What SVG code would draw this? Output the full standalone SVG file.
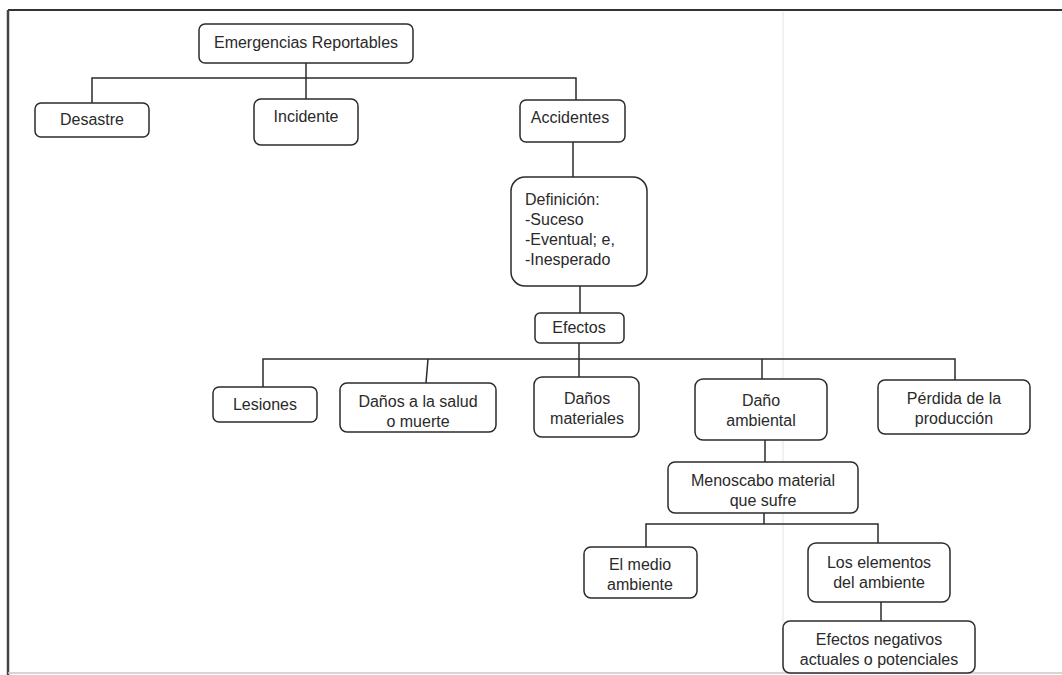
<svg xmlns="http://www.w3.org/2000/svg" width="1062" height="675" viewBox="0 0 1062 675">
<style>
.box{fill:#ffffff;stroke:#2b2b2b;stroke-width:1.5}
.t{font-family:"Liberation Sans",Arial,sans-serif;font-size:16px;fill:#2a2a2a;text-anchor:middle}
.tl{font-family:"Liberation Sans",Arial,sans-serif;font-size:16px;fill:#2a2a2a;text-anchor:start}
.c{fill:none;stroke:#2b2b2b;stroke-width:1.5}
</style>
<rect x="0" y="0" width="1062" height="675" fill="#ffffff"/>
<g id="frame">
<line x1="783" y1="12" x2="783" y2="672" stroke="#ececec" stroke-width="1.5"/>
<line x1="8" y1="10" x2="1062" y2="10" stroke="#333" stroke-width="2"/>
<line x1="8" y1="10" x2="8" y2="675" stroke="#444" stroke-width="2.5"/>
<line x1="8" y1="673" x2="1062" y2="673" stroke="#c8c8c8" stroke-width="1.5"/>
</g>
<g id="connectors">
<path class="c" d="M306 63V99"/>
<path class="c" d="M92 103V78H576V100"/>
<path class="c" d="M573 142V177"/>
<path class="c" d="M580 286V313"/>
<path class="c" d="M579 343V377"/>
<path class="c" d="M263 387V359H955V380"/>
<path class="c" d="M428 359L426 383"/>
<path class="c" d="M762 359V379"/>
<path class="c" d="M765 440V462"/>
<path class="c" d="M764 513V524"/>
<path class="c" d="M646 547V524H878V543"/>
<path class="c" d="M881 602V621"/>
</g>
<g id="n-emergencias">
<rect class="box" x="199" y="24" width="214" height="39" rx="6"/>
<text class="t" x="306" y="48">Emergencias Reportables</text>
</g>
<g id="n-desastre">
<rect class="box" x="35" y="103" width="114" height="34" rx="6"/>
<text class="t" x="92" y="125">Desastre</text>
</g>
<g id="n-incidente">
<rect class="box" x="254" y="99" width="104" height="46" rx="7"/>
<text class="t" x="306" y="122">Incidente</text>
</g>
<g id="n-accidentes">
<rect class="box" x="520" y="100" width="105" height="42" rx="6"/>
<text class="t" x="570" y="123">Accidentes</text>
</g>
<g id="n-definicion">
<rect class="box" x="511" y="177" width="136" height="109" rx="14"/>
<text class="tl" x="525" y="205">Definición:</text>
<text class="tl" x="525" y="225">-Suceso</text>
<text class="tl" x="525" y="245">-Eventual; e,</text>
<text class="tl" x="525" y="265">-Inesperado</text>
</g>
<g id="n-efectos">
<rect class="box" x="535" y="313" width="89" height="30" rx="5"/>
<text class="t" x="579" y="333">Efectos</text>
</g>
<g id="n-lesiones">
<rect class="box" x="213" y="387" width="104" height="35" rx="6"/>
<text class="t" x="265" y="410">Lesiones</text>
</g>
<g id="n-salud">
<rect class="box" x="340" y="383" width="156" height="49" rx="7"/>
<text class="t" x="418" y="407">Daños a la salud</text>
<text class="t" x="418" y="427">o muerte</text>
</g>
<g id="n-materiales">
<rect class="box" x="534" y="377" width="105" height="60" rx="8"/>
<text class="t" x="587" y="404">Daños</text>
<text class="t" x="587" y="424">materiales</text>
</g>
<g id="n-ambiental">
<rect class="box" x="695" y="379" width="132" height="61" rx="8"/>
<text class="t" x="761" y="406">Daño</text>
<text class="t" x="761" y="426">ambiental</text>
</g>
<g id="n-perdida">
<rect class="box" x="878" y="380" width="152" height="54" rx="7"/>
<text class="t" x="954" y="404">Pérdida de la</text>
<text class="t" x="954" y="424">producción</text>
</g>
<g id="n-menoscabo">
<rect class="box" x="668" y="462" width="190" height="51" rx="7"/>
<text class="t" x="763" y="486">Menoscabo material</text>
<text class="t" x="763" y="506">que sufre</text>
</g>
<g id="n-medio">
<rect class="box" x="584" y="547" width="113" height="51" rx="7"/>
<text class="t" x="640" y="570">El medio</text>
<text class="t" x="640" y="590">ambiente</text>
</g>
<g id="n-elementos">
<rect class="box" x="808" y="543" width="142" height="59" rx="8"/>
<text class="t" x="879" y="568">Los elementos</text>
<text class="t" x="879" y="588">del ambiente</text>
</g>
<g id="n-negativos">
<rect class="box" x="783" y="621" width="192" height="52" rx="7"/>
<text class="t" x="879" y="645">Efectos negativos</text>
<text class="t" x="879" y="665">actuales o potenciales</text>
</g>
</svg>
